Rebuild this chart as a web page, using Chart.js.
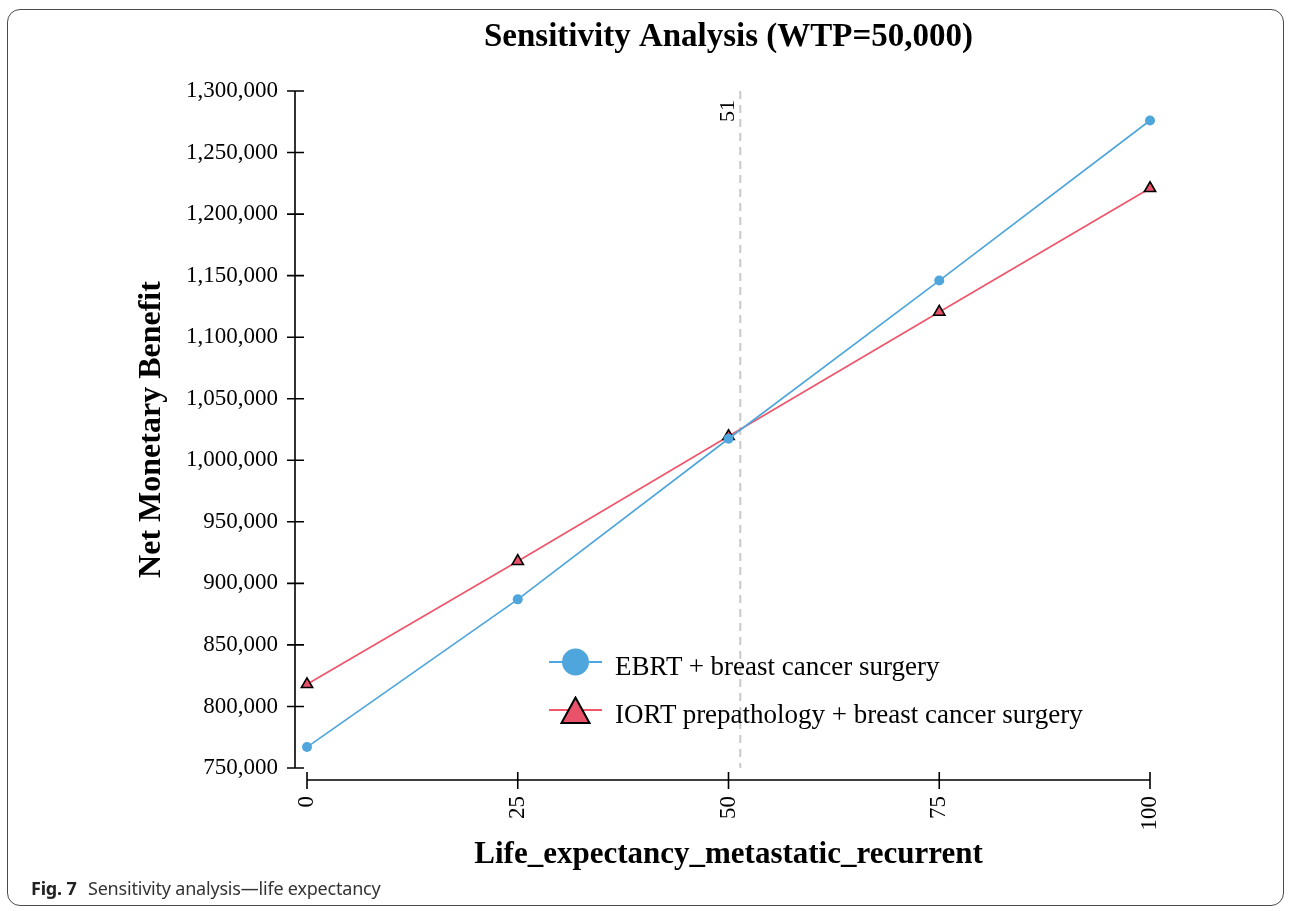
<!DOCTYPE html>
<html>
<head>
<meta charset="utf-8">
<title>Sensitivity Analysis</title>
<script src="https://cdn.jsdelivr.net/npm/chart.js@4"></script>
<style>
    html, body { margin: 0; padding: 0; background: #fff; }
    #wrap { position: relative; width: 1292px; height: 911px; overflow: hidden; }
    #nmbChart { position: absolute; left: 0; top: 0; }
    #frame {
        position: absolute; left: 7px; top: 9px; width: 1277px; height: 897px;
        border: 1.5px solid #4a4a4a; border-radius: 13px; box-sizing: border-box;
        pointer-events: none;
    }
    #caption {
        position: absolute; left: 31px; top: 876px;
        font-family: "Noto Sans", sans-serif; font-size: 18px; color: #333;
        letter-spacing: -0.2px;
    }
    #caption b { color: #222; margin-right: 7px; }
    .lg-mark { position: absolute; left: 549px; }
    .lg-text {
        position: absolute; left: 615px; white-space: nowrap;
        font-family: "Liberation Serif", "Times New Roman", serif; font-size: 27px;
        line-height: 27px; color: #000;
    }
</style>
</head>
<body>
<div id="wrap">
    <canvas id="nmbChart" width="1292" height="911"></canvas>
    <div id="legend"></div>
    <div id="frame"></div>
    <div id="caption"><b>Fig. 7</b> Sensitivity analysis—life expectancy</div>
</div>
<script>
(function () {

    'use strict';

    // ------------------------------------------------------- //
    // Data
    // ------------------------------------------------------ //
    var lifeExpectancy = [0, 25, 50, 75, 100];
    var ebrtValues = [767000, 887000, 1017500, 1146000, 1276000];
    var iortValues = [818000, 918000, 1019500, 1120500, 1221000];
    var seriesLabels = ['EBRT + breast cancer surgery', 'IORT prepathology + breast cancer surgery'];
    var thresholdValue = 51.4;
    var yTicks = [750000, 1300000, 50000];   // min, max, step
    var xTicks = [0, 100, 25];

    var blue = '#4fa6dc';
    var red = '#f0566b';
    var serif = '"Liberation Serif", "Times New Roman", serif';

    function toPoints(values) {
        return lifeExpectancy.map(function (x, i) { return {x: x, y: values[i]}; });
    }

    // axis lines with crossing ticks, drawn apart from the plot like the original
    var axesPlugin = {
        id: 'detachedAxes',
        beforeDatasetsDraw: function (chart) {
            var ctx = chart.ctx, xs = chart.scales.x, ys = chart.scales.y;
            var px = xs.getPixelForValue(thresholdValue);
            ctx.save();
            ctx.strokeStyle = '#c9c9c9';
            ctx.lineWidth = 2;
            ctx.setLineDash([8, 6]);
            ctx.beginPath();
            ctx.moveTo(px, ys.getPixelForValue(yTicks[1]));
            ctx.lineTo(px, ys.getPixelForValue(yTicks[0]));
            ctx.stroke();
            ctx.setLineDash([]);
            ctx.translate(px - 12, ys.getPixelForValue(yTicks[1]) + 9);
            ctx.rotate(-Math.PI / 2);
            ctx.fillStyle = '#000';
            ctx.font = '22px ' + serif;
            ctx.textAlign = 'right';
            ctx.textBaseline = 'middle';
            ctx.fillText(String(Math.round(thresholdValue)), 0, 0);
            ctx.restore();
        },
        afterDraw: function (chart) {
            var ctx = chart.ctx, xs = chart.scales.x, ys = chart.scales.y;
            var axX = chart.chartArea.left - 12;
            var axY = chart.chartArea.bottom + 12;
            var v;
            ctx.save();
            ctx.strokeStyle = '#000';
            ctx.lineWidth = 1.6;
            ctx.beginPath();
            ctx.moveTo(axX, ys.getPixelForValue(yTicks[1]));
            ctx.lineTo(axX, ys.getPixelForValue(yTicks[0]));
            for (v = yTicks[0]; v <= yTicks[1]; v += yTicks[2]) {
                ctx.moveTo(axX - 8, ys.getPixelForValue(v));
                ctx.lineTo(axX + 9, ys.getPixelForValue(v));
            }
            ctx.moveTo(xs.getPixelForValue(xTicks[0]), axY);
            ctx.lineTo(xs.getPixelForValue(xTicks[1]), axY);
            for (v = xTicks[0]; v <= xTicks[1]; v += xTicks[2]) {
                ctx.moveTo(xs.getPixelForValue(v), axY - 8);
                ctx.lineTo(xs.getPixelForValue(v), axY + 9);
            }
            ctx.stroke();
            ctx.restore();
        }
    };

    var chart = new Chart(document.getElementById('nmbChart'), {
        type: 'line',
        data: {
            datasets: [
                {
                    label: seriesLabels[0],
                    data: toPoints(ebrtValues),
                    borderColor: blue,
                    backgroundColor: blue,
                    borderWidth: 1.7,
                    pointStyle: 'circle',
                    pointRadius: 5,
                    pointBorderWidth: 0,
                    pointBackgroundColor: blue,
                    clip: false
                },
                {
                    label: seriesLabels[1],
                    data: toPoints(iortValues),
                    borderColor: red,
                    backgroundColor: red,
                    borderWidth: 1.7,
                    pointStyle: 'triangle',
                    pointRadius: 6.5,
                    pointBorderWidth: 1.6,
                    pointBorderColor: '#000',
                    pointBackgroundColor: '#e8526a',
                    clip: false
                }
            ]
        },
        options: {
            responsive: false,
            animation: false,
            devicePixelRatio: 1,
            layout: {padding: {left: 100, right: 142, top: 0, bottom: 0}},
            plugins: {
                legend: {display: false},
                tooltip: {enabled: false},
                title: {
                    display: true,
                    fullSize: false,
                    text: 'Sensitivity Analysis (WTP=50,000)',
                    color: '#000',
                    font: {family: serif, size: 33, weight: 'bold', lineHeight: 1.2},
                    padding: {top: 18, bottom: 33.4}
                }
            },
            scales: {
                x: {
                    type: 'linear',
                    min: xTicks[0],
                    max: xTicks[1],
                    afterBuildTicks: function (scale) {
                        scale.ticks = [];
                        for (var v = xTicks[0]; v <= xTicks[1]; v += xTicks[2]) scale.ticks.push({value: v});
                    },
                    afterFit: function (scale) { scale.height = 143; },
                    grid: {display: false, drawTicks: false},
                    border: {display: false},
                    ticks: {
                        color: '#000',
                        font: {family: serif, size: 23},
                        minRotation: 90,
                        maxRotation: 90,
                        padding: 28
                    },
                    title: {
                        display: true,
                        text: 'Life_expectancy_metastatic_recurrent',
                        color: '#000',
                        font: {family: serif, size: 31, weight: 'bold', lineHeight: 1.2},
                        padding: {top: 0, bottom: 37}
                    }
                },
                y: {
                    min: yTicks[0],
                    max: yTicks[1],
                    afterBuildTicks: function (scale) {
                        scale.ticks = [];
                        for (var v = yTicks[0]; v <= yTicks[1]; v += yTicks[2]) scale.ticks.push({value: v});
                    },
                    afterFit: function (scale) { scale.width = 207; },
                    grid: {display: false, drawTicks: false},
                    border: {display: false},
                    ticks: {
                        color: '#000',
                        font: {family: serif, size: 23},
                        padding: 29,
                        callback: function (v) { return Number(v).toLocaleString('en-US'); }
                    },
                    title: {
                        display: true,
                        text: 'Net Monetary Benefit',
                        color: '#000',
                        font: {family: serif, size: 32, weight: 'bold', lineHeight: 1.2},
                        padding: {top: 33, bottom: 0}
                    }
                }
            }
        },
        plugins: [axesPlugin]
    });

    // ------------------------------------------------------- //
    // Legend built from the chart's datasets (inside the plot)
    // ------------------------------------------------------ //
    var legend = document.getElementById('legend');
    var markerTops = [648, 696];
    var textTops = [653, 701];
    chart.data.datasets.forEach(function (ds, i) {
        var mark = document.createElement('div');
        mark.className = 'lg-mark';
        mark.style.top = markerTops[i] + 'px';
        var shape = ds.pointStyle === 'triangle'
            ? '<polygon points="26.5,1.5 40.5,27 12.5,27" fill="' + ds.pointBackgroundColor + '" stroke="#000" stroke-width="2" stroke-linejoin="miter"/>'
            : '<circle cx="26.5" cy="14" r="13.5" fill="' + ds.pointBackgroundColor + '"/>';
        mark.innerHTML = '<svg width="53" height="29" viewBox="0 0 53 29">' +
            '<line x1="0" y1="14" x2="53" y2="14" stroke="' + ds.borderColor + '" stroke-width="2"/>' +
            shape + '</svg>';
        var txt = document.createElement('div');
        txt.className = 'lg-text';
        txt.style.top = textTops[i] + 'px';
        txt.textContent = ds.label;
        legend.appendChild(mark);
        legend.appendChild(txt);
    });

}());
</script>
</body>
</html>
